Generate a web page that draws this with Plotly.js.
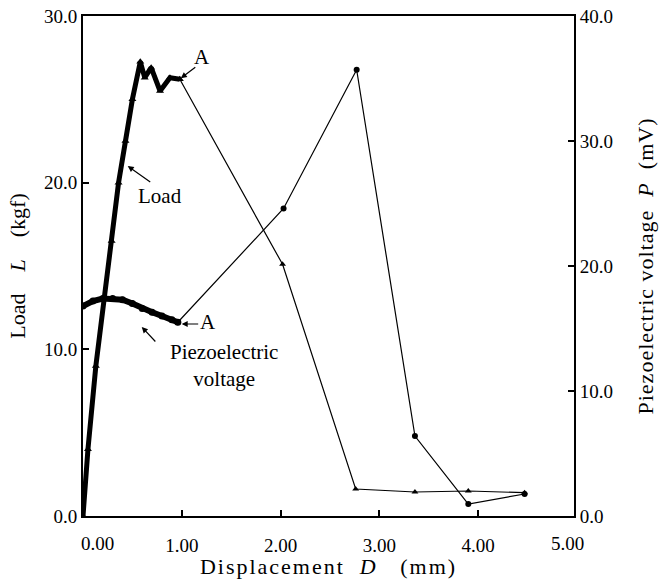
<!DOCTYPE html>
<html>
<head>
<meta charset="utf-8">
<script src="https://cdn.plot.ly/plotly-3.0.1.min.js"></script>
<style>
html,body{margin:0;padding:0;background:#fff}
#chart{width:668px;height:579px}
#chart text.xtitle{letter-spacing:2px}
#chart text.y2title{letter-spacing:1px}
</style>
</head>
<body>
<div id="chart"></div>
<script>
// Load L (kgf) — densely sampled part up to point A
const loadDenseX = [0, 0.05, 0.13, 0.21, 0.29, 0.36, 0.43, 0.50, 0.58, 0.625, 0.69, 0.78, 0.88, 0.98];
const loadDenseY = [0, 4.0, 9.0, 13.0, 16.5, 20.0, 22.5, 25.0, 27.25, 26.3, 26.9, 25.5, 26.3, 26.2];
// Load after point A
const loadX = [0.98, 2.02, 2.76, 3.36, 3.90, 4.47];
const loadY = [26.2, 15.1, 1.62, 1.44, 1.50, 1.40];
// Piezoelectric voltage P (mV) — densely sampled part up to point A
const piezoDenseX = [0, 0.1, 0.2, 0.3, 0.4, 0.5, 0.6, 0.7, 0.8, 0.9, 0.96];
const piezoDenseY = [16.8, 17.2, 17.4, 17.4, 17.3, 17.0, 16.6, 16.3, 16.0, 15.7, 15.5];
// Piezoelectric voltage after point A
const piezoX = [0.96, 2.03, 2.77, 3.36, 3.90, 4.47];
const piezoY = [15.5, 24.6, 35.7, 6.4, 0.96, 1.76];

const xTickVals = [1, 2, 3, 4];
const xTickText = ["1.00", "2.00", "3.00", "4.00"];
const yTickVals = [0, 10, 20, 30];
const yTickText = ["0.0", "10.0", "20.0", "30.0"];
const y2TickVals = [0, 10, 20, 30, 40];
const y2TickText = ["0.0", "10.0", "20.0", "30.0", "40.0"];

const FONT = "Liberation Serif";
const TICKFONT = {family: FONT, size: 19, color: "#000"};
const TITLEFONT = {family: FONT, size: 22, color: "#000"};
const NOTEFONT = {family: FONT, size: 21, color: "#000"};

const traces = [
  {x: loadDenseX, y: loadDenseY, mode: "lines+markers", line: {color: "#000", width: 5},
   marker: {symbol: "triangle-up", size: 7, color: "#000"}, showlegend: false},
  {x: loadX, y: loadY, mode: "lines+markers", line: {color: "#000", width: 1.2},
   marker: {symbol: "triangle-up", size: 6, color: "#000"}, showlegend: false},
  {x: piezoDenseX, y: piezoDenseY, yaxis: "y2", mode: "lines+markers", line: {color: "#000", width: 6},
   marker: {symbol: "circle", size: 7, color: "#000"}, showlegend: false},
  {x: piezoX, y: piezoY, yaxis: "y2", mode: "lines+markers", line: {color: "#000", width: 1.2},
   marker: {symbol: "circle", size: 6, color: "#000"}, showlegend: false}
];

const arrowStyle = {showarrow: true, arrowhead: 2, arrowsize: 1, arrowwidth: 1.2, arrowcolor: "#000", text: ""};

const layout = {
  width: 668, height: 579,
  margin: {l: 83, r: 94, t: 16, b: 63},
  paper_bgcolor: "#fff", plot_bgcolor: "#fff",
  font: {family: FONT, size: 19, color: "#000"},
  showlegend: false,
  xaxis: {
    range: [0, 4.97], tickvals: xTickVals, ticktext: xTickText, tickfont: TICKFONT,
    ticks: "inside", ticklen: 6, tickwidth: 2, tickcolor: "#000", ticklabelstandoff: 11,
    showline: true, linecolor: "#000", linewidth: 2, mirror: true,
    showgrid: false, zeroline: false,
    title: {text: "Displacement  <i>D</i>   (mm)", font: TITLEFONT, standoff: 6}
  },
  yaxis: {
    range: [0, 30], tickvals: yTickVals, ticktext: yTickText, tickfont: TICKFONT,
    ticks: "inside", ticklen: 6, tickwidth: 2, tickcolor: "#000",
    showline: true, linecolor: "#000", linewidth: 2,
    showgrid: false, zeroline: false,
    title: {text: "Load\u00a0\u00a0\u00a0\u00a0<i>L</i>\u00a0\u00a0\u00a0\u00a0(kgf)", font: TITLEFONT, standoff: 12}
  },
  yaxis2: {
    overlaying: "y", side: "right",
    range: [0, 40], tickvals: y2TickVals, ticktext: y2TickText, tickfont: TICKFONT,
    ticks: "inside", ticklen: 6, tickwidth: 2, tickcolor: "#000",
    showline: true, linecolor: "#000", linewidth: 2,
    showgrid: false, zeroline: false,
    title: {text: "Piezoelectric voltage\u00a0\u00a0<i>P</i>\u00a0\u00a0(mV)", font: TITLEFONT, standoff: 26}
  },
  annotations: [
    {xref: "x", yref: "paper", x: 0.149, y: 0, yanchor: "middle", yshift: -27, text: "0.00", showarrow: false, font: TICKFONT},
    {xref: "x", yref: "paper", x: 4.90, y: 0, yanchor: "middle", yshift: -27, text: "5.00", showarrow: false, font: TICKFONT},
    // labels
    {xref: "x", yref: "y", x: 1.203, y: 27.53, text: "A", showarrow: false, font: NOTEFONT},
    {xref: "x", yref: "y", x: 0.777, y: 19.2, text: "Load", showarrow: false, font: NOTEFONT},
    {xref: "x", yref: "y2", x: 1.263, y: 15.52, text: "A", showarrow: false, font: NOTEFONT},
    {xref: "x", yref: "y2", x: 1.428, y: 12.08, text: "Piezoelectric<br>voltage", showarrow: false, font: NOTEFONT},
    // arrows
    Object.assign({xref: "x", yref: "y", x: 0.99, y: 26.27, ax: 16, ay: -12}, arrowStyle),
    Object.assign({xref: "x", yref: "y", x: 0.453, y: 21.0, ax: 24, ay: 17}, arrowStyle),
    Object.assign({xref: "x", yref: "y2", x: 0.999, y: 15.36, ax: 18, ay: 0}, arrowStyle),
    Object.assign({xref: "x", yref: "y2", x: 0.595, y: 15.12, ax: 15, ay: 16}, arrowStyle)
  ]
};

Plotly.newPlot("chart", traces, layout, {displayModeBar: false, staticPlot: true});
</script>
</body>
</html>
